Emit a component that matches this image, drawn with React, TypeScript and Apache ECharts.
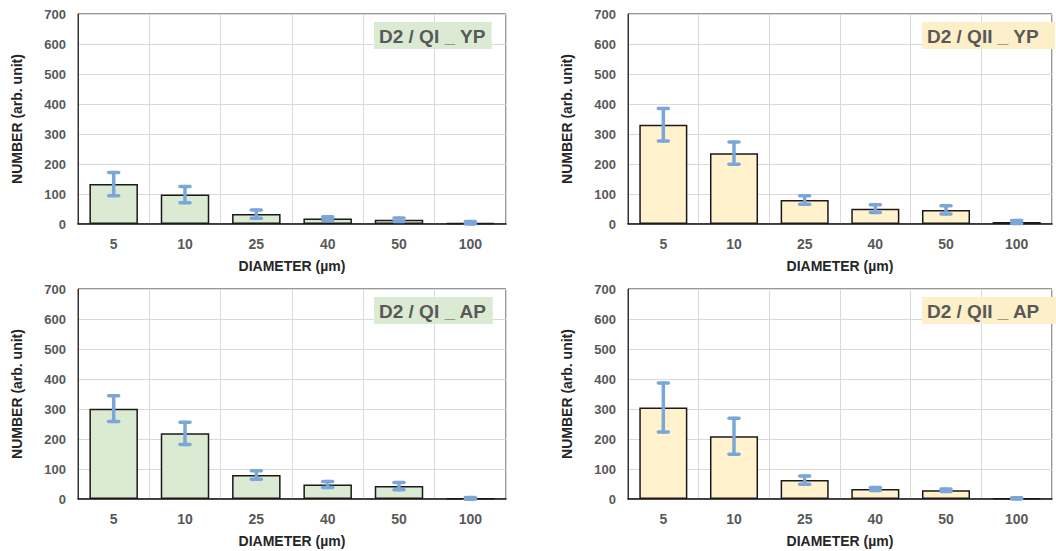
import React, { useEffect, useRef } from "react";
import * as echarts from "echarts";

const categories = ["5", "10", "25", "40", "50", "100"];
const yTicks = [0, 100, 200, 300, 400, 500, 600, 700];

const qiYP = [133, 98, 33, 18, 14, 4];
const qiYPErr = [39, 27, 14, 6, 6, 4];
const qiiYP = [331, 236, 80, 51, 47, 7];
const qiiYPErr = [54, 37, 14, 13, 14, 5];
const qiAP = [301, 219, 80, 48, 43, 2];
const qiAPErr = [43, 37, 14, 10, 12, 3];
const qiiAP = [305, 209, 63, 33, 29, 2];
const qiiAPErr = [82, 60, 14, 5, 4, 2];

const titles = ["D2 / QI _ YP", "D2 / QII _ YP", "D2 / QI _ AP", "D2 / QII _ AP"];

const FONT = "'Liberation Sans', Arial, sans-serif";
const GREEN = "#dbead3";
const YELLOW = "#fff2cc";
const GREEN_BOX = "#dbead3";
const YELLOW_BOX = "#fdf0c9";

const panels = [
  { values: qiYP, errs: qiYPErr, fill: GREEN, box: GREEN_BOX, left: 78, top: 14, width: 428 },
  { values: qiiYP, errs: qiiYPErr, fill: YELLOW, box: YELLOW_BOX, left: 628, top: 14, width: 424 },
  { values: qiAP, errs: qiAPErr, fill: GREEN, box: GREEN_BOX, left: 78, top: 289, width: 428 },
  { values: qiiAP, errs: qiiAPErr, fill: YELLOW, box: YELLOW_BOX, left: 628, top: 289, width: 424 },
];
const titlePos = [
  { left: 374, top: 22, padRight: 6 },
  { left: 922, top: 22, padRight: 16 },
  { left: 374, top: 297, padRight: 6 },
  { left: 922, top: 297, padRight: 16 },
];

export default function App() {
  const ref = useRef<HTMLDivElement>(null);
  useEffect(() => {
    if (!ref.current) return;
    const chart = echarts.init(ref.current, null, { renderer: "svg" });
    const grid: any[] = [];
    const xAxis: any[] = [];
    const yAxis: any[] = [];
    const series: any[] = [];
    const title: any[] = [];
    panels.forEach((p, i) => {
      grid.push({
        left: p.left,
        top: p.top,
        width: p.width,
        height: 210,
        show: true,
        borderColor: "#333",
        borderWidth: 1,
        backgroundColor: "transparent",
      });
      xAxis.push({
        type: "category",
        gridIndex: i,
        data: categories,
        name: "DIAMETER (µm)",
        nameLocation: "middle",
        nameGap: 35,
        nameTextStyle: { fontFamily: FONT, fontWeight: "bold", fontSize: 14, color: "#262626" },
        axisLine: { show: true, lineStyle: { color: "#1a1a1a", width: 1.5 } },
        axisTick: { show: false },
        axisLabel: { fontFamily: FONT, fontWeight: "bold", fontSize: 14, color: "#595959", margin: 13 },
        splitLine: { show: true, lineStyle: { color: "#d9d9d9", width: 1 } },
      });
      yAxis.push({
        type: "value",
        gridIndex: i,
        min: yTicks[0],
        max: yTicks[yTicks.length - 1],
        interval: 100,
        name: "NUMBER (arb. unit)",
        nameLocation: "middle",
        nameGap: 54,
        nameTextStyle: { fontFamily: FONT, fontWeight: "bold", fontSize: 14, color: "#262626" },
        axisLine: { show: true, lineStyle: { color: "#333", width: 1 } },
        axisTick: { show: false },
        axisLabel: { fontFamily: FONT, fontWeight: "bold", fontSize: 13, color: "#595959", margin: 12 },
        splitLine: { show: true, lineStyle: { color: "#d9d9d9", width: 1 } },
      });
      series.push({
        type: "bar",
        xAxisIndex: i,
        yAxisIndex: i,
        data: p.values,
        barWidth: "68%",
        itemStyle: { color: p.fill, borderColor: "#1a1a1a", borderWidth: 1.5 },
        z: 2,
      });
      series.push({
        type: "custom",
        xAxisIndex: i,
        yAxisIndex: i,
        z: 5,
        data: p.values.map((v, k) => [k, v - p.errs[k], v + p.errs[k]]),
        encode: { x: 0, y: [1, 2] },
        renderItem: (params: any, api: any) => {
          const x = api.value(0);
          const lo = api.value(1);
          const hi = api.value(2);
          const pHi = api.coord([x, hi]);
          const pLo = api.coord([x, lo]);
          const half = 5;
          const style = { stroke: "#7ba7d8", lineWidth: 3.5, lineCap: "round" };
          return {
            type: "group",
            children: [
              { type: "line", shape: { x1: pHi[0], y1: pHi[1], x2: pLo[0], y2: pLo[1] }, style },
              { type: "line", shape: { x1: pHi[0] - half, y1: pHi[1], x2: pHi[0] + half, y2: pHi[1] }, style },
              { type: "line", shape: { x1: pLo[0] - half, y1: pLo[1], x2: pLo[0] + half, y2: pLo[1] }, style },
            ],
          };
        },
      });
      title.push({
        text: titles[i],
        left: titlePos[i].left,
        top: titlePos[i].top,
        backgroundColor: p.box,
        padding: [5, titlePos[i].padRight, 3, 5],
        textStyle: { fontFamily: FONT, fontWeight: "bold", fontSize: 19, color: "#595959" },
      });
    });
    chart.setOption({
      animation: false,
      backgroundColor: "#ffffff",
      title,
      grid,
      xAxis,
      yAxis,
      series,
    });
    return () => chart.dispose();
  }, []);
  return (
    <div
      ref={ref}
      style={{ position: "absolute", left: 0, top: 0, width: 1056, height: 551 }}
    />
  );
}
